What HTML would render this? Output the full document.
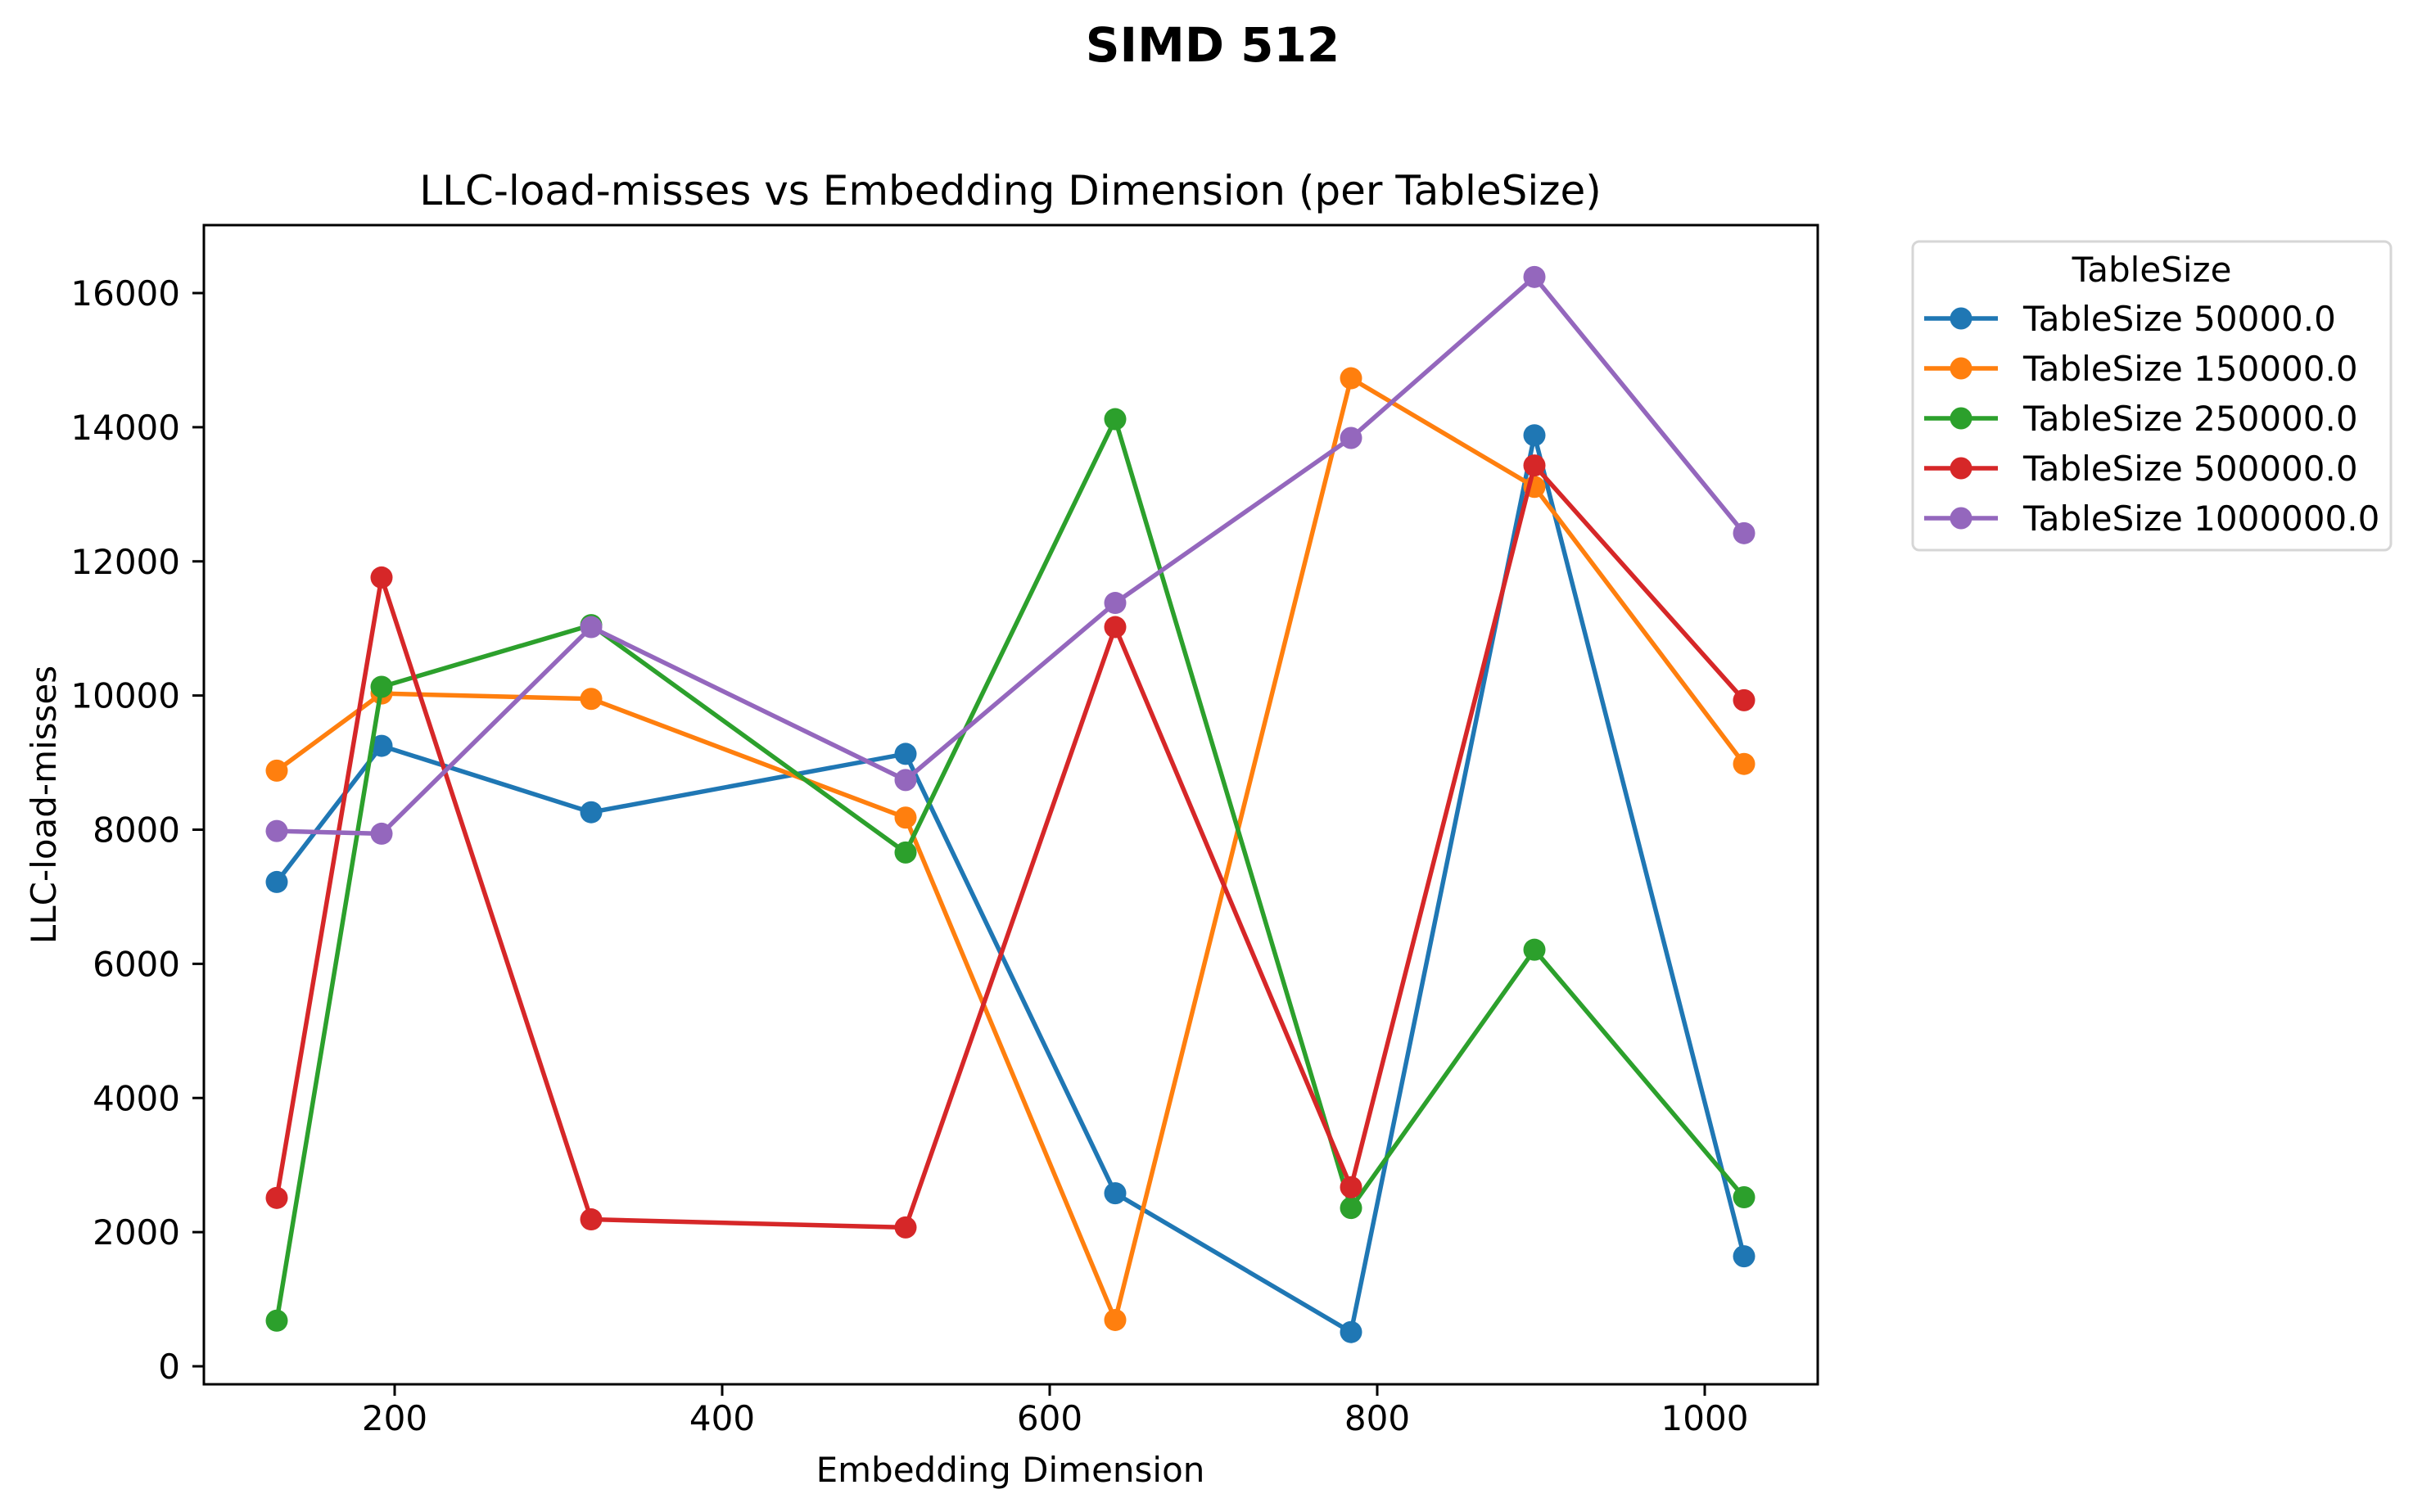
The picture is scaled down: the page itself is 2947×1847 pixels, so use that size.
<!DOCTYPE html>
<html><head><meta charset="utf-8"><style>
html,body{margin:0;padding:0;background:#fff;}
svg{display:block;font-family:"DejaVu Sans","Liberation Sans",sans-serif;}
</style></head><body>
<svg id="chart" width="2947" height="1847" viewBox="0 0 2947 1847" xmlns="http://www.w3.org/2000/svg">
<rect x="0" y="0" width="2947" height="1847" fill="#fff"/>
<text x="1481" y="75" text-anchor="middle" font-size="58" font-weight="bold">SIMD 512</text>
<text x="1234" y="250" text-anchor="middle" font-size="50">LLC-load-misses vs Embedding Dimension (per TableSize)</text>
<g id="plot"></g>
<rect x="249" y="275" width="1971" height="1416" fill="none" stroke="#000" stroke-width="3"/>
<text x="1234" y="1810" text-anchor="middle" font-size="42">Embedding Dimension</text>
<text x="0" y="0" transform="translate(68,983) rotate(-90)" text-anchor="middle" font-size="42">LLC-load-misses</text>
<g id="legend">
<rect x="2336" y="295" width="584" height="377" rx="8" fill="#fff" stroke="#d6d6d6" stroke-width="3"/>
<text x="2628" y="344" text-anchor="middle" font-size="42">TableSize</text>
</g>
</svg>
<script>
const dims = [128, 192, 320, 512, 640, 784, 896, 1024];
const seriesNames = ["TableSize 50000.0","TableSize 150000.0","TableSize 250000.0","TableSize 500000.0","TableSize 1000000.0"];
const s50k = [7220, 9250, 8260, 9130, 2580, 510, 13880, 1640];
const s150k = [8880, 10030, 9950, 8180, 690, 14730, 13110, 8980];
const s250k = [680, 10130, 11050, 7660, 14120, 2360, 6210, 2520];
const s500k = [2510, 11760, 2190, 2070, 11020, 2670, 13430, 9930];
const s1m = [7980, 7940, 11020, 8740, 11380, 13840, 16240, 12420];
const xTicks = [200, 400, 600, 800, 1000];
const yTicks = [0, 2000, 4000, 6000, 8000, 10000, 12000, 14000, 16000];

const colors = ["#1f77b4","#ff7f0e","#2ca02c","#d62728","#9467bd"];
const allSeries = [s50k, s150k, s250k, s500k, s1m];
const NS = "http://www.w3.org/2000/svg";
function xs(v){ return 482 + (v - 200) * 2.0; }
function ys(v){ return 1669 - v * (1311 / 16000); }
function mk(tag, attrs, parent){ const e = document.createElementNS(NS, tag); for (const k in attrs) e.setAttribute(k, attrs[k]); parent.appendChild(e); return e; }
const svg = document.getElementById('chart');
const plot = document.getElementById('plot');
const legend = document.getElementById('legend');

xTicks.forEach(t => {
  const x = xs(t);
  const tk = mk('line', {x1:x, y1:1691, x2:x, y2:1705, stroke:'#000','stroke-width':3}, svg);
  
  
  const lb = mk('text', {x:x, y:1747, 'text-anchor':'middle', 'font-size':42}, svg);
  lb.textContent = t;
  
  
});
yTicks.forEach(t => {
  const y = ys(t);
  const tk = mk('line', {x1:235, y1:y, x2:249, y2:y, stroke:'#000','stroke-width':3}, svg);
  
  
  const lb = mk('text', {x:220, y:y + 15, 'text-anchor':'end', 'font-size':42}, svg);
  lb.textContent = t;
  
  
});

allSeries.forEach((vals, i) => {
  const g = mk('g', {}, plot);
  
  
  const pts = vals.map((v, j) => xs(dims[j]) + ',' + ys(v)).join(' ');
  const pl = mk('polyline', {points:pts, fill:'none', stroke:colors[i], 'stroke-width':5.5, 'stroke-linejoin':'round'}, g);
  
  
  vals.forEach((v, j) => {
    const c = mk('circle', {cx:xs(dims[j]), cy:ys(v), r:13.5, fill:colors[i]}, g);
    
    
  });
  const ly = 389 + i * 61;
  const ll = mk('line', {x1:2350, y1:ly, x2:2440, y2:ly, stroke:colors[i], 'stroke-width':5.5}, legend);
  
  
  const lc = mk('circle', {cx:2395, cy:ly, r:13.5, fill:colors[i]}, legend);
  
  
  const lt = mk('text', {x:2471, y:ly + 15, 'font-size':42}, legend);
  lt.textContent = seriesNames[i];
  
  
});
</script>
</body></html>
